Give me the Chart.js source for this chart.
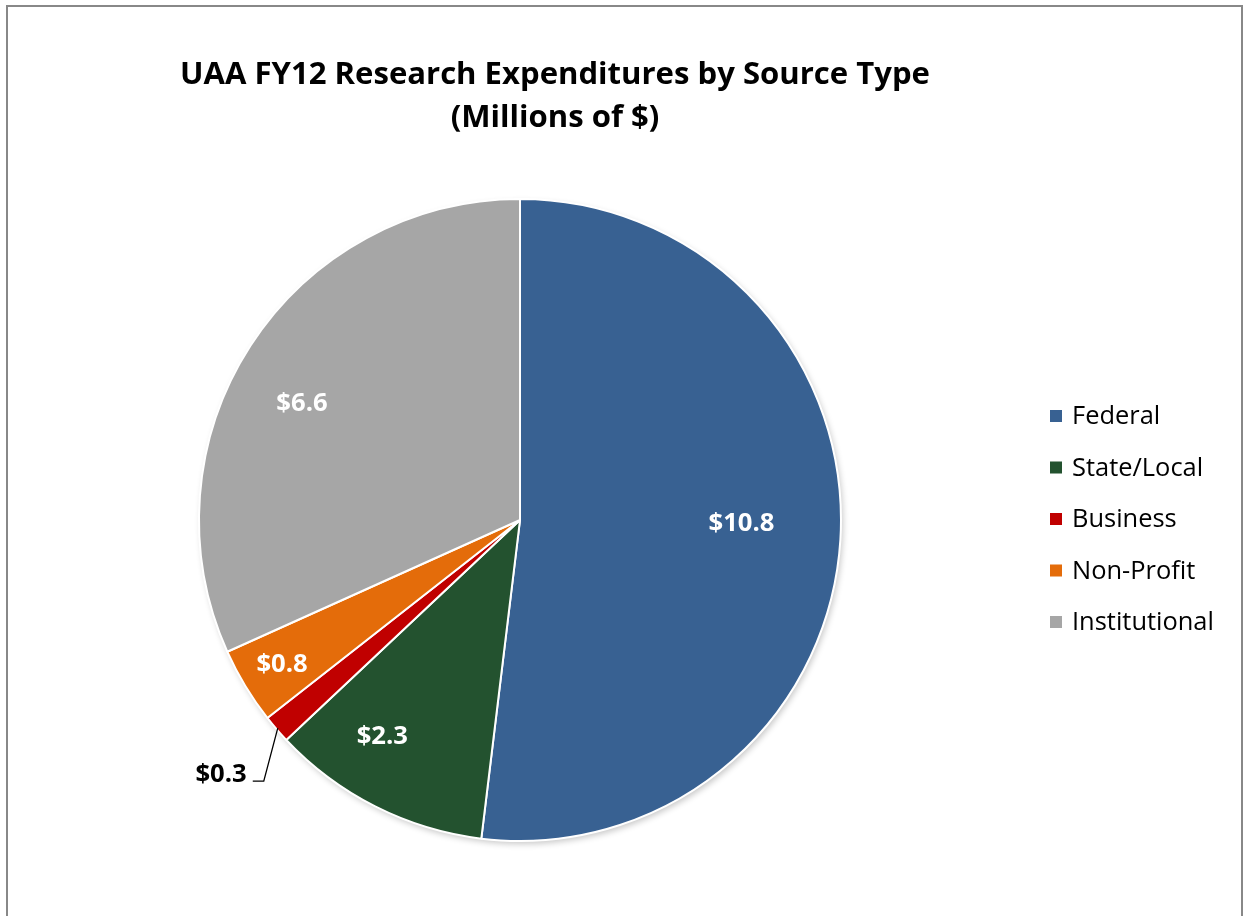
<!DOCTYPE html>
<html><head><meta charset="utf-8">
<script src="https://cdn.jsdelivr.net/npm/chart.js@4.4.0/dist/chart.umd.min.js"></script>
<style>
html,body{margin:0;padding:0;background:#fff;width:1244px;height:916px;overflow:hidden;}
#wrap{position:absolute;left:0;top:0;width:1244px;height:916px;}
#frame{position:absolute;left:6px;top:5px;width:1237px;height:930px;border:2px solid #888;border-bottom:none;box-sizing:border-box;}
canvas{position:absolute;left:0;top:0;}
</style></head>
<body><div id="wrap"><div id="frame"></div><canvas id="c" width="1244" height="916"></canvas></div>
<script>
const titleLines = ["UAA FY12 Research Expenditures by Source Type", "(Millions of $)"];
const categories = ["Federal", "State/Local", "Business", "Non-Profit", "Institutional"];
const values = [10.8, 2.3, 0.3, 0.8, 6.6];
const valueLabels = ["$10.8", "$2.3", "$0.3", "$0.8", "$6.6"];
const colors = ["#386192", "#23522F", "#C00000", "#E46C0A", "#A6A6A6"];
const labelRadialFraction = [0.69, 0.80, null, 0.868, 0.769];
const labelAngleShiftDeg = [-2.5, 5.6, 0, -0.2, -4.9];

const FAMILY = "'Open Sans', sans-serif";

function fitFont(ctx, text, targetWidth, weight){
  ctx.font = weight + " 100px " + FAMILY;
  const w = ctx.measureText(text).width;
  const size = 100 * targetWidth / w;
  return weight + " " + size.toFixed(2) + "px " + FAMILY;
}

const overlay = {
  id: 'overlay',
  beforeDatasetsDraw(chart){
    const ctx = chart.ctx;
    ctx.save();
    ctx.shadowColor = 'rgba(0,0,0,0.22)';
    ctx.shadowBlur = 6;
    ctx.shadowOffsetX = 2;
    ctx.shadowOffsetY = 3;
    const arc = chart.getDatasetMeta(0).data[0];
    ctx.beginPath();
    ctx.arc(arc.x, arc.y, arc.outerRadius, 0, Math.PI*2);
    ctx.fillStyle = '#fff';
    ctx.fill();
    ctx.restore();
  },
  afterDatasetsDraw(chart){
    const ctx = chart.ctx;
    const meta = chart.getDatasetMeta(0);
    ctx.save();
    // title
    ctx.fillStyle = '#000';
    ctx.textAlign = 'center';
    ctx.textBaseline = 'middle';
    const tFont = fitFont(ctx, titleLines[0], 750, 'bold');
    ctx.font = tFont;
    ctx.fillText(titleLines[0], 555, 75);
    ctx.fillText(titleLines[1], 555, 118);
    // data labels
    const lFont = fitFont(ctx, "$10.8", 66, 'bold');
    ctx.font = lFont;
    meta.data.forEach((arc, i) => {
      const mid = (arc.startAngle + arc.endAngle) / 2;
      const f = labelRadialFraction[i];
      if (f !== null) {
        const a = mid + labelAngleShiftDeg[i] * Math.PI / 180;
        const x = arc.x + Math.cos(a) * arc.outerRadius * f;
        const y = arc.y + Math.sin(a) * arc.outerRadius * f;
        ctx.fillStyle = '#fff';
        ctx.fillText(valueLabels[i], x, y);
      } else {
        const ex = arc.x + Math.cos(mid) * arc.outerRadius * 0.995;
        const ey = arc.y + Math.sin(mid) * arc.outerRadius * 0.995;
        const bx = ex - 14, by = ey + 53;
        ctx.strokeStyle = '#000';
        ctx.lineWidth = 1.3;
        ctx.beginPath();
        ctx.moveTo(ex, ey);
        ctx.lineTo(bx, by);
        ctx.lineTo(bx - 11, by);
        ctx.stroke();
        ctx.fillStyle = '#000';
        ctx.textAlign = 'right';
        ctx.fillText(valueLabels[i], bx - 17, by - 6);
        ctx.textAlign = 'center';
      }
    });
    // legend
    ctx.textAlign = 'left';
    ctx.font = fitFont(ctx, "Institutional", 142, 'normal');
    categories.forEach((c, i) => {
      const y = 416 + i * 51.5;
      ctx.fillStyle = colors[i];
      ctx.fillRect(1050, y - 6, 12, 12);
      ctx.fillStyle = '#000';
      ctx.fillText(c, 1072, y + 1);
    });
    ctx.restore();
  }
};

new Chart(document.getElementById('c'), {
  type: 'pie',
  data: {
    labels: categories,
    datasets: [{
      data: values,
      backgroundColor: colors,
      borderColor: '#ffffff',
      borderWidth: 2
    }]
  },
  options: {
    responsive: false,
    animation: false,
    events: [],
    layout: { padding: { left: 198, right: 402, top: 198, bottom: 74 } },
    plugins: {
      legend: { display: false },
      title: { display: false },
      tooltip: { enabled: false }
    }
  },
  plugins: [overlay]
});
</script>
</body></html>
